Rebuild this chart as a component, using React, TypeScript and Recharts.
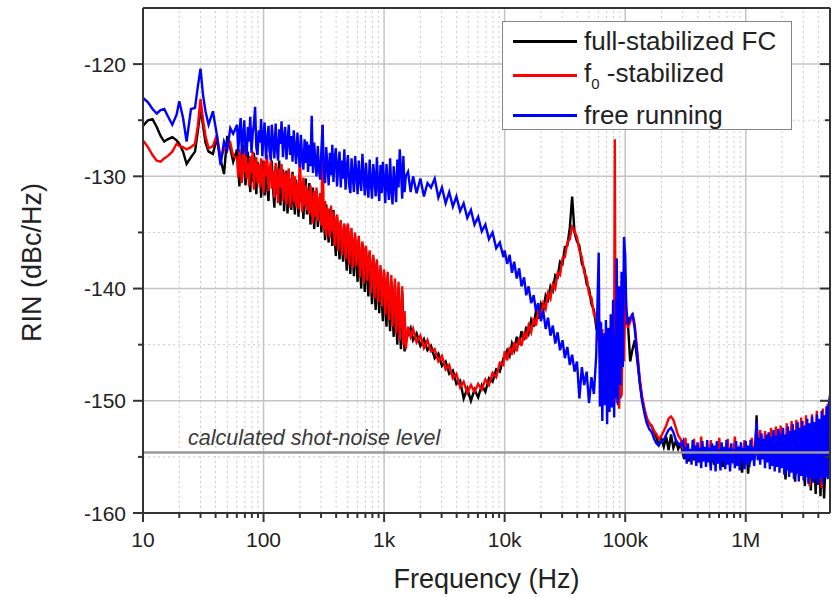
import React from "react";
import { LineChart, Line, XAxis, YAxis, ReferenceLine, Legend } from "recharts";

// frequency grid (Hz), shared by the three traces
const freqs = [
  10, 11, 12, 13, 14, 15, 16, 17.5, 19, 20,
  21.5, 23, 25, 27, 28.5, 30, 31.5, 33, 35, 38,
  41, 44, 47, 50, 53, 56,
  60.3, 61.7, 63.1, 64.6, 66.1, 67.6, 69.2, 70.8, 72.4, 74.1,
  75.9, 77.6, 79.4, 81.3, 83.2, 85.1, 87.1, 89.1, 91.2, 93.3,
  95.5, 97.7, 100, 102, 105, 107, 110, 112, 115, 117,
  120, 123, 126, 129, 132, 135, 138, 141, 145, 148,
  151, 155, 158, 162, 166, 170, 174, 178, 182, 186,
  191, 195, 200, 204, 209, 214, 219, 224, 229, 234,
  240, 245, 251, 257, 263, 269, 275, 282, 288, 295,
  302, 309, 316, 324, 331, 339, 347, 355, 363, 372,
  380, 389, 398, 407, 417, 427, 437, 447, 457, 468,
  479, 490, 501, 513, 525, 537, 550, 562, 575, 589,
  603, 617, 631, 646, 661, 676, 692, 708, 724, 741,
  759, 776, 794, 813, 832, 851, 871, 891, 912, 933,
  955, 977, 1000, 1023, 1047, 1072, 1096, 1122, 1148, 1175,
  1202, 1230, 1259, 1288, 1318, 1349, 1380, 1413, 1445, 1479,
  1514,
  1580, 1660, 1740, 1860, 2000, 2140, 2290, 2450, 2630, 2820,
  3020, 3240, 3470, 3720, 3980, 4270, 4570, 4900, 5250, 5620,
  6030, 6460, 6920, 7410, 7940, 8510, 9120, 9770,
  10000, 10500, 11000, 11500, 12000, 12600, 13200, 13800, 14500, 15100,
  15800, 16600, 17400, 18200, 19000, 20000, 20900, 21900, 22900, 24000,
  25100, 26300, 27500, 28800, 30200, 31600, 33100, 34700, 36300, 38000,
  39800, 41700, 43700, 45700, 47900, 50100, 52500, 55000, 57500, 60300,
  61700, 63100, 64600, 66100, 67600, 69200, 70800, 72400, 74100, 75900,
  77600, 79400, 81000, 82000, 83200, 85100, 87100, 89100, 91200, 93300,
  95500, 97700,
  100000, 102000, 105000, 110000, 115000, 120000, 126000, 132000, 138000, 145000,
  151000, 158000, 166000, 174000, 182000, 190000, 200000, 209000, 219000, 229000,
  240000, 251000, 263000, 275000, 288000,
  302000, 309000, 316000, 324000, 331000, 339000, 347000, 355000, 363000, 372000,
  380000, 389000, 398000, 407000, 417000, 427000, 437000, 447000, 457000, 468000,
  479000, 490000, 501000, 513000, 525000, 537000, 550000, 562000, 575000, 589000,
  603000, 617000, 631000, 646000, 661000, 676000, 692000, 708000, 724000, 741000,
  759000, 776000, 794000, 813000, 832000, 851000, 871000, 891000, 912000, 933000,
  955000, 977000, 1000000, 1023000, 1047000, 1072000, 1096000, 1122000, 1148000, 1175000,
  1202000, 1230000, 1259000, 1288000, 1318000, 1349000, 1380000, 1413000, 1445000, 1479000,
  1514000, 1549000, 1585000, 1622000, 1660000, 1698000, 1738000, 1778000, 1820000, 1862000,
  1905000, 1950000, 1995000, 2042000, 2089000, 2138000, 2188000, 2239000, 2291000, 2344000,
  2399000, 2455000, 2512000, 2570000, 2630000, 2692000, 2754000, 2818000, 2884000, 2951000,
  3020000, 3090000, 3162000, 3236000, 3311000, 3388000, 3467000, 3548000, 3631000, 3715000,
  3802000, 3890000, 3981000, 4074000, 4169000, 4266000, 4365000, 4467000, 4571000, 4677000,
  4786000, 4898000, 5000000,
];

// RIN in dBc/Hz
const fullStabilized = [
  -125.5, -125.0, -124.9, -125.6, -126.4, -126.9, -126.7, -126.5, -126.8, -127.1,
  -127.8, -128.9, -128.3, -127.8, -126.0, -124.0, -125.5, -127.0, -127.8, -128.0,
  -126.6, -128.5, -129.8, -126.4, -127.5, -128.7,
  -127.6, -129.4, -130.9, -127.9, -130.3, -128.6, -127.2, -130.8, -129.1, -127.8,
  -129.9, -131.4, -128.3, -130.5, -127.9, -129.6, -131.6, -128.7, -130.3, -129.2,
  -131.9, -128.6, -129.8, -131.7, -128.9, -130.9, -132.2, -129.3, -130.4, -128.6,
  -131.2, -132.8, -129.1, -131.6, -129.9, -128.6, -132.6, -130.3, -129.4, -133.1,
  -131.0, -129.5, -133.3, -131.4, -130.2, -133.0, -129.6, -131.9, -133.4, -130.3,
  -131.8, -133.6, -130.0, -132.3, -130.6, -133.8, -131.5, -130.2, -133.4, -132.0,
  -130.6, -134.3, -132.1, -131.0, -134.7, -132.5, -131.3, -134.5, -133.1, -131.8,
  -135.0, -132.0, -133.4, -135.7, -132.5, -134.3, -135.9, -132.9, -134.0, -136.2,
  -133.0, -135.5, -137.1, -133.6, -135.2, -137.4, -134.1, -136.0, -137.6, -134.4,
  -136.3, -138.4, -134.3, -136.8, -138.7, -135.0, -137.2, -138.9, -135.4, -137.5,
  -139.4, -135.6, -137.9, -140.0, -136.0, -138.3, -140.3, -136.5, -138.6, -140.7,
  -136.8, -139.3, -141.4, -137.2, -139.8, -141.9, -137.6, -140.3, -142.2, -138.2,
  -140.8, -142.9, -138.6, -141.3, -143.4, -139.0, -141.8, -143.8, -139.3, -142.4,
  -144.3, -139.6, -142.9, -145.0, -139.9, -143.3, -145.4, -140.3, -143.6, -145.6,
  -144.8,
  -144.0, -143.5, -144.6, -144.0, -145.1, -144.5, -145.5, -145.1, -146.2, -145.8,
  -146.9, -146.5, -147.6, -147.3, -148.5, -148.2, -149.8, -148.9, -150.0, -149.0,
  -149.7, -148.6, -149.2, -148.0, -148.3, -147.2, -147.4, -146.2,
  -146.2, -145.5, -146.0, -144.9, -145.5, -144.3, -145.0, -143.8, -144.6, -143.4,
  -144.0, -142.8, -143.4, -142.0, -142.7, -141.4, -142.0, -140.6, -141.0, -139.8,
  -140.2, -138.8, -139.0, -137.6, -137.8, -136.3, -136.2, -134.6, -131.8, -135.0,
  -135.8, -136.2, -137.8, -138.2, -139.6, -140.0, -141.4, -141.9, -143.4, -143.0,
  -146.0, -143.8, -148.6, -144.2, -149.2, -144.6, -148.8, -145.0, -149.6, -144.6,
  -150.0, -145.4, -149.0, -145.8, -148.5, -144.8, -150.4, -145.6, -149.8, -143.8,
  -146.6, -144.0,
  -140.5, -143.0, -142.8, -146.5, -145.4, -144.6, -146.4, -148.3, -149.8, -150.9,
  -151.6, -152.0, -152.3, -152.8, -153.3, -153.9, -153.4, -154.1, -153.2, -154.4,
  -153.0, -154.2, -153.6, -154.3, -153.8,
  -154.8, -155.2, -154.6, -155.0, -154.9, -155.4, -154.7, -155.1, -154.5, -155.3,
  -154.8, -155.0, -155.5, -154.6, -155.2, -154.9, -155.4, -154.7, -155.1, -155.0,
  -154.6, -155.3, -155.0, -155.8, -154.8, -155.2, -155.7, -154.9, -155.4, -155.1,
  -155.0, -154.7, -155.4, -155.9, -154.9, -155.3, -155.1, -154.8, -155.5, -155.2,
  -154.7, -155.3, -155.0, -155.6, -154.9, -155.2, -154.8, -155.4, -155.0, -156.4,
  -155.1, -154.8, -155.5, -155.0, -156.5, -154.9, -155.3, -155.0, -154.7, -155.2,
  -154.8, -151.3, -154.6, -155.0, -154.4, -155.2, -154.7, -155.1, -154.5, -155.4,
  -154.6, -155.2, -154.8, -155.5, -154.4, -155.3, -154.9, -155.6, -154.5, -155.4,
  -155.0, -154.6, -155.7, -154.8, -155.3, -157.0, -154.7, -155.5, -155.1, -154.9,
  -155.6, -155.0, -155.3, -157.2, -154.8, -155.7, -155.2, -154.9, -155.8, -155.3,
  -155.0, -157.6, -155.5, -154.9, -156.0, -155.3, -158.0, -155.1, -155.7, -155.2,
  -158.3, -155.4, -155.9, -155.1, -158.5, -155.6, -155.0, -158.7, -155.8, -155.3,
  -155.5, -154.8, -151.5,
];

const f0Stabilized = [
  -126.8, -127.4, -128.1, -128.6, -128.7, -128.4, -128.2, -127.8, -127.1, -127.3,
  -127.4, -127.6, -127.4, -127.1, -125.5, -123.1, -125.0, -126.4, -127.5, -127.3,
  -126.3, -128.4, -127.6, -127.3, -127.0, -128.2,
  -128.4, -130.1, -127.6, -129.3, -130.6, -128.0, -129.6, -127.3, -130.2, -128.8,
  -130.9, -128.2, -129.7, -127.8, -131.2, -129.0, -128.3, -130.6, -128.9, -131.0,
  -128.4, -130.2, -131.5, -128.6, -130.0, -128.1, -131.3, -129.4, -128.7, -131.1,
  -129.5, -131.9, -128.8, -130.7, -132.4, -129.3, -131.0, -128.9, -132.2, -130.1,
  -129.6, -132.5, -130.4, -129.3, -132.8, -130.9, -129.8, -132.3, -130.0, -132.7,
  -130.6, -132.9, -128.0, -131.2, -133.2, -130.1, -132.6, -130.8, -133.0, -131.3,
  -133.4, -130.8, -132.7, -134.2, -131.3, -133.6, -131.0, -134.0, -132.2, -131.5,
  -134.4, -125.4, -134.8, -132.2, -135.3, -132.8, -134.1, -135.5, -132.6, -134.9,
  -133.2, -136.2, -134.0, -133.4, -136.6, -134.7, -133.9, -137.0, -135.1, -134.2,
  -137.4, -135.0, -134.2, -137.9, -135.6, -134.6, -138.2, -136.0, -135.0, -138.0,
  -136.4, -135.3, -139.0, -137.1, -135.8, -139.6, -136.6, -136.2, -139.3, -137.5,
  -136.6, -140.4, -138.1, -137.0, -140.9, -138.6, -137.4, -141.2, -139.2, -137.9,
  -141.6, -139.4, -138.3, -142.3, -140.0, -138.5, -142.8, -140.6, -138.8, -143.4,
  -141.3, -139.1, -144.0, -141.8, -139.4, -144.6, -142.3, -139.8, -145.0, -142.0,
  -145.4,
  -143.4, -144.3, -143.6, -144.8, -144.2, -145.3, -144.6, -145.6, -145.4, -146.5,
  -146.0, -147.2, -146.8, -148.0, -147.6, -148.8, -148.3, -149.3, -148.6, -149.2,
  -148.5, -149.0, -148.1, -148.6, -147.5, -147.9, -146.6, -146.8,
  -145.6, -146.4, -145.2, -145.9, -144.8, -145.6, -144.4, -145.1, -143.9, -144.5,
  -143.3, -143.9, -142.6, -143.3, -142.0, -142.6, -141.3, -141.8, -140.4, -140.9,
  -139.6, -140.0, -138.6, -138.8, -137.3, -137.2, -135.9, -135.6, -134.5, -134.9,
  -135.4, -136.6, -137.2, -138.6, -139.0, -140.5, -140.8, -142.3, -142.6, -144.8,
  -142.9, -147.5, -143.6, -148.2, -144.0, -149.0, -143.8, -148.6, -144.5, -149.4,
  -144.2, -149.8, -145.0, -126.7, -146.0, -150.2, -144.6, -150.7, -145.3, -149.6,
  -144.0, -146.5,
  -138.8, -142.0, -143.5, -143.0, -142.2, -143.2, -145.6, -148.0, -149.6, -150.8,
  -151.5, -152.0, -152.2, -152.7, -153.0, -153.4, -153.1, -152.7, -152.2, -151.6,
  -151.4, -151.7, -152.4, -153.1, -153.4,
  -154.4, -154.9, -153.3, -154.7, -154.5, -155.0, -154.3, -154.8, -154.6, -153.4,
  -154.9, -154.5, -155.1, -154.4, -154.7, -153.2, -155.0, -154.6, -154.8, -154.3,
  -155.1, -154.5, -154.7, -153.5, -154.9, -154.4, -155.2, -154.6, -154.3, -154.8,
  -153.3, -154.9, -154.5, -155.1, -154.4, -154.7, -154.9, -153.4, -154.6, -155.0,
  -154.4, -154.8, -154.5, -153.2, -155.0, -154.6, -154.3, -154.9, -154.5, -155.1,
  -154.7, -153.5, -154.9, -154.4, -155.0, -154.6, -154.8, -153.3, -154.5, -154.9,
  -154.4, -152.0, -154.2, -154.8, -152.6, -154.5, -155.0, -154.1, -152.7, -154.6,
  -154.3, -155.1, -154.4, -152.4, -154.8, -154.2, -155.3, -152.3, -154.6, -155.0,
  -154.1, -152.2, -155.4, -154.5, -154.0, -155.6, -152.0, -154.7, -155.2, -154.3,
  -151.8, -155.5, -154.2, -155.0, -151.7, -154.6, -155.7, -154.1, -151.5, -155.3,
  -154.8, -155.9, -151.3, -154.5, -155.4, -157.6, -154.0, -151.2, -155.8, -154.6,
  -155.2, -150.9, -154.9, -155.6, -154.3, -157.8, -150.7, -155.1, -154.7, -155.5,
  -150.3, -154.4, -150.0,
];

const freeRunning = [
  -123.0, -123.4, -124.0, -124.4, -124.1, -124.0, -124.6, -125.4, -124.5, -123.3,
  -124.8, -126.9, -124.0, -123.9, -122.0, -120.4, -122.8, -124.2, -125.4, -124.2,
  -126.3, -129.0, -126.9, -127.6, -125.7, -126.2,
  -125.4, -127.8, -126.1, -124.8, -128.0, -126.5, -125.0, -127.6, -128.2, -125.6,
  -126.9, -124.7, -127.9, -126.2, -125.3, -123.8, -127.4, -128.1, -125.9, -127.0,
  -124.9, -128.2, -126.4, -125.2, -128.5, -126.8, -125.5, -127.7, -128.6, -125.4,
  -126.9, -128.4, -125.3, -127.5, -128.6, -125.8, -127.1, -125.1, -128.3, -126.6,
  -125.6, -128.5, -127.0, -125.4, -128.1, -126.4, -128.7, -125.9, -127.5, -128.9,
  -126.1, -127.8, -129.2, -126.3, -128.4, -129.4, -126.7, -128.8, -126.9, -129.6,
  -127.2, -129.1, -124.6, -129.7, -127.0, -128.6, -130.0, -127.3, -129.4, -130.3,
  -127.6, -125.4, -129.7, -130.6, -127.4, -129.1, -130.8, -127.9, -129.9, -127.2,
  -130.5, -128.3, -127.5, -130.9, -129.0, -127.8, -131.0, -128.6, -130.2, -127.6,
  -131.2, -129.3, -128.1, -130.8, -131.5, -128.4, -130.0, -131.4, -128.2, -129.8,
  -131.6, -128.6, -130.3, -131.3, -128.0, -129.9, -131.7, -128.8, -130.7, -131.9,
  -128.5, -130.5, -132.0, -128.9, -130.1, -131.8, -128.3, -130.9, -132.2, -129.0,
  -131.5, -128.7, -130.4, -132.4, -128.9, -130.8, -132.1, -128.4, -131.2, -132.5,
  -129.1, -130.6, -132.3, -128.5, -131.0, -127.6, -129.4, -132.0, -128.2, -131.4,
  -130.0,
  -129.6, -131.4, -130.0, -131.5, -130.2, -131.8, -130.6, -131.0, -130.2, -131.9,
  -131.0, -132.4, -131.4, -132.7, -131.8, -133.1, -132.4, -133.7, -133.0, -134.3,
  -133.6, -134.9, -134.3, -135.6, -135.0, -136.4, -135.9, -137.2,
  -136.6, -137.8, -137.0, -138.6, -137.6, -139.1, -138.2, -139.8, -139.0, -140.6,
  -139.8, -141.3, -140.6, -142.0, -141.3, -142.9, -142.0, -143.6, -142.6, -144.2,
  -143.3, -144.9, -143.9, -145.5, -144.6, -146.2, -145.2, -146.8, -145.9, -147.4,
  -146.5, -149.8, -147.0, -148.6, -147.4, -150.2, -147.9, -149.4, -146.0, -136.8,
  -150.5, -143.0, -151.8, -144.0, -150.4, -142.8, -152.1, -143.5, -151.0, -142.3,
  -150.6, -141.0, -151.5, -144.0, -149.8, -137.3, -150.2, -139.8, -148.6, -138.5,
  -147.0, -135.4,
  -137.0, -141.6, -143.2, -142.6, -142.3, -143.6, -146.0, -148.4, -150.0, -151.2,
  -152.0, -152.5, -152.8, -153.4, -153.8, -154.0, -153.6, -153.5, -153.0, -152.6,
  -152.4, -152.8, -153.5, -153.8, -154.0,
  -153.6, -155.0, -154.1, -155.6, -153.8, -155.2, -154.3, -155.7, -153.5, -155.1,
  -154.0, -155.8, -153.7, -155.3, -154.2, -156.0, -153.6, -155.4, -154.1, -155.9,
  -153.5, -155.5, -154.2, -156.2, -153.8, -155.3, -154.0, -156.3, -153.6, -155.6,
  -154.3, -156.2, -153.7, -155.4, -154.1, -156.1, -153.5, -155.7, -154.2, -156.3,
  -153.8, -155.5, -154.3, -156.0, -153.6, -155.8, -154.1, -156.2, -153.7, -155.4,
  -154.2, -156.1, -153.6, -155.6, -154.0, -155.9, -153.5, -155.3, -154.1, -155.8,
  -153.7, -151.8, -155.3, -153.3, -155.7, -152.9, -155.2, -153.4, -156.0, -153.0,
  -155.5, -152.8, -156.1, -153.2, -155.8, -152.6, -156.3, -153.1, -155.9, -152.5,
  -156.4, -152.9, -156.0, -152.4, -156.6, -153.0, -156.2, -152.3, -156.8, -152.7,
  -156.4, -152.1, -157.0, -152.6, -156.5, -151.9, -157.2, -152.4, -156.7, -151.8,
  -157.1, -152.2, -156.8, -151.6, -157.4, -152.0, -156.9, -151.4, -157.3, -151.9,
  -157.0, -151.2, -157.5, -151.6, -156.9, -150.9, -157.4, -151.3, -156.8, -150.5,
  -157.0, -150.2, -149.5,
];

const majorFreqTicks = [10, 100, 1000, 10000, 100000, 1000000];
const freqTickLabels = ["10", "100", "1k", "10k", "100k", "1M"];
const minorFreqTicks = [
  20, 30, 40, 50, 60, 70, 80, 90,
  200, 300, 400, 500, 600, 700, 800, 900,
  2000, 3000, 4000, 5000, 6000, 7000, 8000, 9000,
  20000, 30000, 40000, 50000, 60000, 70000, 80000, 90000,
  200000, 300000, 400000, 500000, 600000, 700000, 800000, 900000,
  2000000, 3000000, 4000000,
];
const majorRinTicks = [-160, -150, -140, -130, -120];
const minorRinTicks = [-155, -145, -135, -125];
const shotNoiseLevel = -154.6;

const series = [
  { key: "full", name: "full-stabilized FC", color: "#000000" },
  { key: "f0", name: "f0 -stabilized", color: "#ff0000" },
  { key: "free", name: "free running", color: "#0000ff" },
];

const data = freqs.map((f, i) => ({
  f,
  full: fullStabilized[i],
  f0: f0Stabilized[i],
  free: freeRunning[i],
}));

const allFreqTicks = [...majorFreqTicks, ...minorFreqTicks].sort((a, b) => a - b);
const allRinTicks = [...majorRinTicks, ...minorRinTicks].sort((a, b) => a - b);

const FONT = '"Liberation Sans", Arial, Helvetica, sans-serif';
const AXIS = "#333";
const TEXT = "#222";

const BottomTick = ({ x, y, payload }: any) => {
  const i = majorFreqTicks.indexOf(payload.value);
  return (
    <g>
      <line x1={x} x2={x} y1={y} y2={y + (i >= 0 ? 9 : 5)} stroke={AXIS} strokeWidth={2} />
      {i >= 0 && (
        <text x={x} y={y + 34} textAnchor="middle" fontSize={21} fill={TEXT} fontFamily={FONT}>
          {freqTickLabels[i]}
        </text>
      )}
    </g>
  );
};

const TopTick = ({ x, y, payload }: any) => {
  const major = majorFreqTicks.includes(payload.value);
  return <line x1={x} x2={x} y1={y} y2={y + (major ? 9 : 5)} stroke={AXIS} strokeWidth={2} />;
};

const LeftTick = ({ x, y, payload }: any) => {
  const major = majorRinTicks.includes(payload.value);
  return (
    <g>
      <line x1={x - (major ? 10 : 5)} x2={x} y1={y} y2={y} stroke={AXIS} strokeWidth={2} />
      {major && (
        <text x={x - 17} y={y + 7.5} textAnchor="end" fontSize={21} fill={TEXT} fontFamily={FONT}>
          {payload.value}
        </text>
      )}
    </g>
  );
};

const RightTick = ({ x, y, payload }: any) => {
  const major = majorRinTicks.includes(payload.value);
  return <line x1={x - (major ? 10 : 5)} x2={x} y1={y} y2={y} stroke={AXIS} strokeWidth={2} />;
};

const YTitle = ({ viewBox }: any) => {
  const cx = viewBox.x + 32;
  const cy = viewBox.y + viewBox.height / 2 + 2;
  return (
    <text
      x={cx}
      y={cy}
      transform={`rotate(-90, ${cx}, ${cy})`}
      textAnchor="middle"
      dominantBaseline="central"
      fontSize={27}
      fill={TEXT}
      fontFamily={FONT}
    >
      RIN (dBc/Hz)
    </text>
  );
};

// vertical centre of each legend row, from the top of the box
const legendRowCentres = [19, 53, 93];

const LegendBox = ({ payload }: any) => {
  const items = series.map((s) => {
    const p = (payload || []).find((e: any) => e.dataKey === s.key);
    return { name: s.name, color: p ? p.color : s.color };
  });
  return (
    <div
      style={{
        position: "relative",
        width: 290,
        height: 109,
        border: "1.5px solid #858585",
        background: "#fff",
        boxSizing: "border-box",
        fontFamily: FONT,
        fontSize: 26,
        color: TEXT,
      }}
    >
      {items.map((it, i) => (
        <div
          key={it.name}
          style={{
            position: "absolute",
            left: 0,
            top: legendRowCentres[i] - 16,
            height: 32,
            display: "flex",
            alignItems: "center",
            whiteSpace: "nowrap",
          }}
        >
          <span
            style={{ display: "inline-block", width: 64, height: 3, background: it.color, marginLeft: 10, marginRight: 7 }}
          />
          {it.name.startsWith("f0") ? (
            <span>
              f<sub style={{ fontSize: 15, verticalAlign: -7 }}>0</sub>
              {it.name.slice(2)}
            </span>
          ) : (
            <span>{it.name}</span>
          )}
        </div>
      ))}
    </div>
  );
};

export default function App() {
  return (
    <div style={{ position: "absolute", left: 0, top: 0, background: "#fff" }}>
      <LineChart width={836} height={597} data={data} margin={{ top: 0, right: 0, bottom: 0, left: 0 }}>
        <XAxis
          xAxisId="bottom"
          dataKey="f"
          type="number"
          scale="log"
          domain={[10, 5000000]}
          allowDataOverflow
          ticks={allFreqTicks}
          interval={0}
          height={84}
          tick={<BottomTick />}
          tickLine={false}
          tickSize={0}
          tickMargin={0}
          axisLine={{ stroke: AXIS, strokeWidth: 2 }}
          label={{ value: "Frequency (Hz)", position: "insideBottom", offset: 9, fontSize: 27, fill: TEXT, fontFamily: FONT }}
        />
        <XAxis
          xAxisId="top"
          orientation="top"
          type="number"
          scale="log"
          domain={[10, 5000000]}
          allowDataOverflow
          ticks={allFreqTicks}
          interval={0}
          height={8}
          tick={<TopTick />}
          tickLine={false}
          tickSize={0}
          tickMargin={0}
          axisLine={{ stroke: AXIS, strokeWidth: 2 }}
        />
        <YAxis
          yAxisId="left"
          type="number"
          domain={[-160, -115]}
          allowDataOverflow
          ticks={allRinTicks}
          interval={0}
          width={143}
          tick={<LeftTick />}
          tickLine={false}
          tickSize={0}
          tickMargin={0}
          axisLine={{ stroke: AXIS, strokeWidth: 2 }}
          label={YTitle}
        />
        <YAxis
          yAxisId="right"
          orientation="right"
          type="number"
          domain={[-160, -115]}
          allowDataOverflow
          ticks={allRinTicks}
          interval={0}
          width={6}
          tick={<RightTick />}
          tickLine={false}
          tickSize={0}
          tickMargin={0}
          axisLine={{ stroke: AXIS, strokeWidth: 2 }}
        />

        {minorFreqTicks.map((t) => (
          <ReferenceLine key={`vx${t}`} xAxisId="bottom" yAxisId="left" x={t} stroke="#cccccc" strokeWidth={1} strokeDasharray="2 3" />
        ))}
        {minorRinTicks.map((t) => (
          <ReferenceLine key={`hy${t}`} xAxisId="bottom" yAxisId="left" y={t} stroke="#cccccc" strokeWidth={1} strokeDasharray="2 3" />
        ))}
        {majorFreqTicks.slice(1).map((t) => (
          <ReferenceLine key={`VX${t}`} xAxisId="bottom" yAxisId="left" x={t} stroke="#c4c4c4" strokeWidth={1.5} />
        ))}
        {majorRinTicks.slice(1).map((t) => (
          <ReferenceLine key={`HY${t}`} xAxisId="bottom" yAxisId="left" y={t} stroke="#c4c4c4" strokeWidth={1.5} />
        ))}

        {series.map((s) => (
          <Line
            key={s.key}
            xAxisId="bottom"
            yAxisId="left"
            type="linear"
            dataKey={s.key}
            name={s.name}
            stroke={s.color}
            strokeWidth={2.4}
            dot={false}
            activeDot={false}
            isAnimationActive={false}
          />
        ))}

        <ReferenceLine
          xAxisId="bottom"
          yAxisId="left"
          y={shotNoiseLevel}
          stroke="#9a9a9a"
          strokeWidth={2.5}
          label={({ viewBox }: any) => (
            <text
              x={viewBox.x + 45}
              y={viewBox.y - 7}
              fontSize={21.5}
              fontStyle="italic"
              fill="#3a3a3a"
              fontFamily={FONT}
            >
              calculated shot-noise level
            </text>
          )}
        />

        <Legend
          layout="vertical"
          align="center"
          verticalAlign="middle"
          content={LegendBox}
          wrapperStyle={{ left: 502, top: 21, width: 290 }}
        />
      </LineChart>
    </div>
  );
}
